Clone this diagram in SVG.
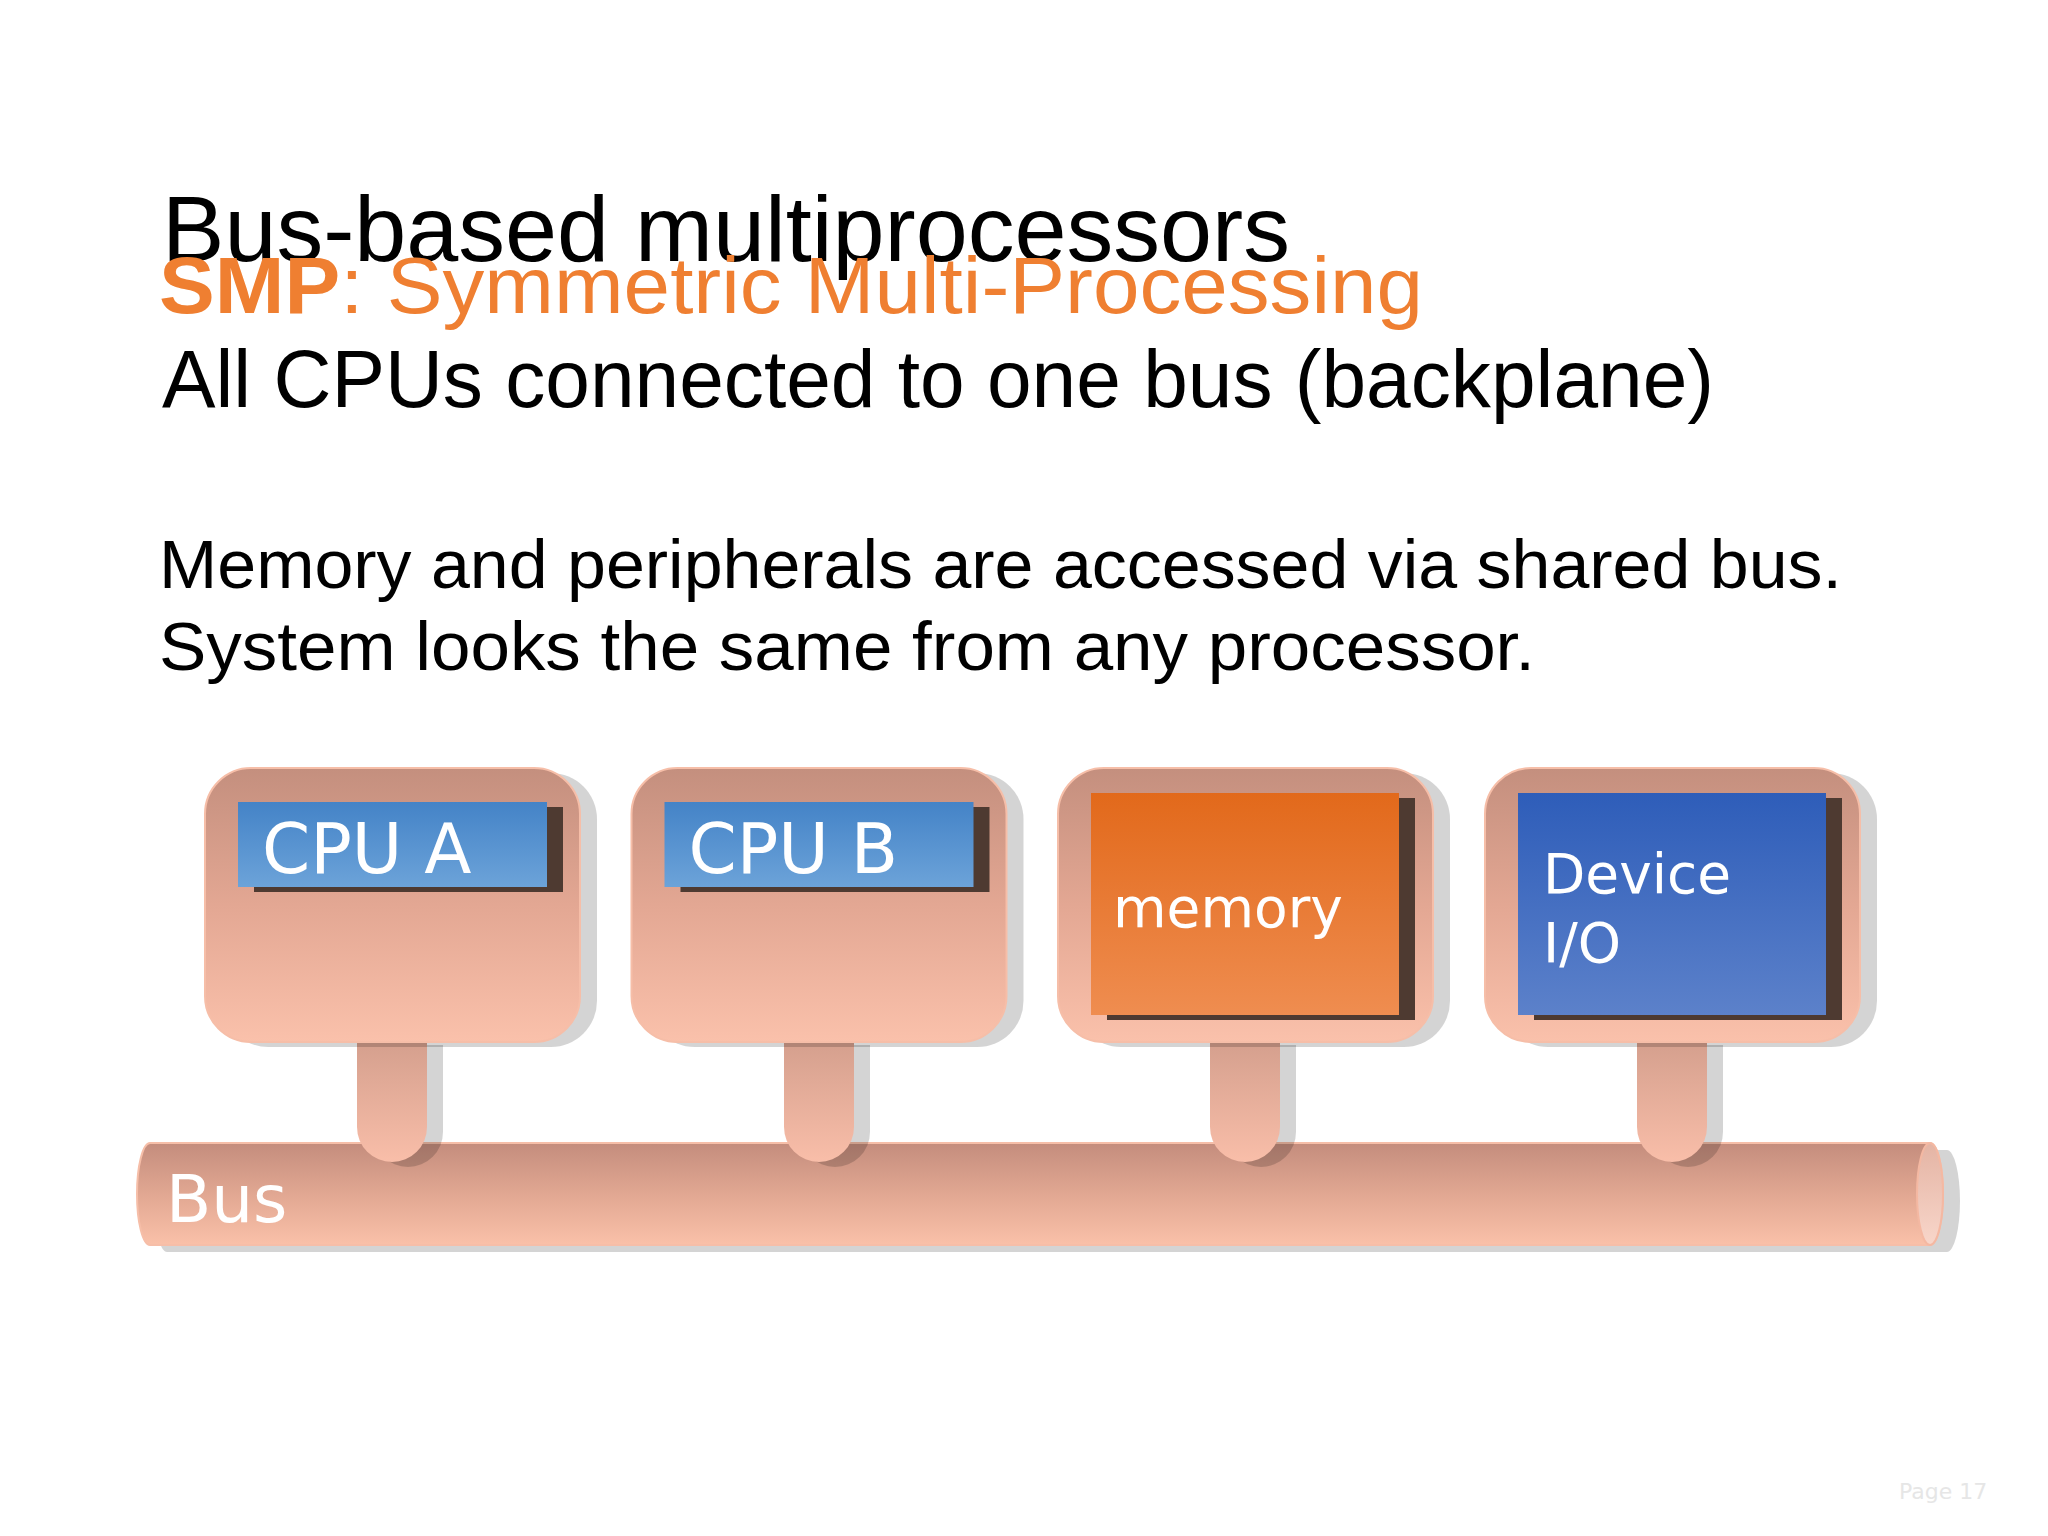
<svg xmlns="http://www.w3.org/2000/svg" width="2048" height="1536" viewBox="0 0 2048 1536">
  <defs>
    <linearGradient id="gBox" x1="0" y1="0" x2="0" y2="1">
      <stop offset="0" stop-color="#C48F7E"/>
      <stop offset="0.5" stop-color="#E3A793"/>
      <stop offset="1" stop-color="#FAC1AB"/>
    </linearGradient>
    <linearGradient id="gStem" x1="0" y1="0" x2="0" y2="1">
      <stop offset="0" stop-color="#D49F8D"/>
      <stop offset="1" stop-color="#F9BEA9"/>
    </linearGradient>
    <linearGradient id="gBus" x1="0" y1="0" x2="0" y2="1">
      <stop offset="0" stop-color="#C48D7D"/>
      <stop offset="0.5" stop-color="#E1A792"/>
      <stop offset="1" stop-color="#FAC1A9"/>
    </linearGradient>
    <linearGradient id="gCap" x1="0" y1="0" x2="0" y2="1">
      <stop offset="0" stop-color="#E4B4A4"/>
      <stop offset="1" stop-color="#F8D6CA"/>
    </linearGradient>
    <linearGradient id="gCpu" x1="0" y1="0" x2="0" y2="1">
      <stop offset="0" stop-color="#4483C7"/>
      <stop offset="1" stop-color="#6CA3D9"/>
    </linearGradient>
    <linearGradient id="gMem" x1="0" y1="0" x2="0" y2="1">
      <stop offset="0" stop-color="#E2691B"/>
      <stop offset="1" stop-color="#EF8D50"/>
    </linearGradient>
    <linearGradient id="gDev" x1="0" y1="0" x2="0" y2="1">
      <stop offset="0" stop-color="#2E5DB9"/>
      <stop offset="1" stop-color="#5C81CA"/>
    </linearGradient>
  </defs>
  <style>
    .shadow { fill: #000000; opacity: 0.17; }
    .box { fill: url(#gBox); stroke: #F6BEA8; stroke-width: 2; }
    .stem { fill: url(#gStem); }
    .inshadow { fill: #4E3A31; }
    .label { font-family: "DejaVu Sans", "Open Sans", sans-serif; fill: #FFFFFF; }
    .comic { font-family: "Liberation Sans", "DejaVu Sans", sans-serif; }
  </style>
  <rect x="0" y="0" width="2048" height="1536" fill="#FFFFFF"/>

  <g id="title">
    <text x="162" y="261" font-family="Liberation Sans, Arial, sans-serif" font-size="93" fill="#000000" textLength="1128" lengthAdjust="spacingAndGlyphs">Bus-based multiprocessors</text>
  </g>
  <g id="text-block">
    <text class="comic" x="159" y="313" font-size="80" fill="#EF7F31" textLength="1264" lengthAdjust="spacingAndGlyphs"><tspan font-weight="bold">SMP</tspan>:  Symmetric Multi-Processing</text>
    <text class="comic" x="162" y="407" font-size="82" fill="#000000" textLength="1552" lengthAdjust="spacingAndGlyphs">All CPUs connected to one bus (backplane)</text>
    <text class="comic" x="159" y="588" font-size="69" fill="#000000" textLength="1683" lengthAdjust="spacingAndGlyphs">Memory and peripherals are accessed via shared bus.</text>
    <text class="comic" x="159" y="670" font-size="69" fill="#000000" textLength="1376" lengthAdjust="spacingAndGlyphs">System looks the same from any processor.</text>
  </g>

  <g id="bus">
    <path class="shadow" d="M167 1150 H1947 A13 51 0 0 1 1947 1252 H167 A13 51 0 0 1 167 1150 Z"/>
    <path d="M150 1143 H1930 A13 51 0 0 1 1930 1245 H150 A13 51 0 0 1 150 1143 Z" fill="url(#gBus)" stroke="#F6BEA8" stroke-width="2"/>
    <ellipse cx="1930" cy="1194" rx="13" ry="51" fill="url(#gCap)" stroke="#F4B8A2" stroke-width="2"/>
    <text class="label" x="166" y="1222" font-size="66">Bus</text>
  </g>

  <g id="connectors">
    <path class="shadow" d="M373 1045 H443 V1132 A35 35 0 0 1 373 1132 Z"/>
    <path class="stem" d="M357 1040 H427 V1127 A35 35 0 0 1 357 1127 Z"/>
    <path class="shadow" d="M800 1045 H870 V1132 A35 35 0 0 1 800 1132 Z"/>
    <path class="stem" d="M784 1040 H854 V1127 A35 35 0 0 1 784 1127 Z"/>
    <path class="shadow" d="M1226 1045 H1296 V1132 A35 35 0 0 1 1226 1132 Z"/>
    <path class="stem" d="M1210 1040 H1280 V1127 A35 35 0 0 1 1210 1127 Z"/>
    <path class="shadow" d="M1653 1045 H1723 V1132 A35 35 0 0 1 1653 1132 Z"/>
    <path class="stem" d="M1637 1040 H1707 V1127 A35 35 0 0 1 1637 1127 Z"/>
  </g>

  <g id="cpu-a" transform="translate(205,768)">
    <rect class="shadow" x="17" y="5" width="375" height="274" rx="46" ry="46"/>
    <rect class="box" x="0" y="0" width="375" height="274" rx="46" ry="46"/>
    <rect class="inshadow" x="49" y="39" width="309" height="85"/>
    <rect x="33" y="34" width="309" height="85" fill="url(#gCpu)"/>
    <text class="label" x="57" y="105" font-size="69">CPU A</text>
  </g>

  <g id="cpu-b" transform="translate(631.5,768)">
    <rect class="shadow" x="17" y="5" width="375" height="274" rx="46" ry="46"/>
    <rect class="box" x="0" y="0" width="375" height="274" rx="46" ry="46"/>
    <rect class="inshadow" x="49" y="39" width="309" height="85"/>
    <rect x="33" y="34" width="309" height="85" fill="url(#gCpu)"/>
    <text class="label" x="57" y="105" font-size="69">CPU B</text>
  </g>

  <g id="memory" transform="translate(1058,768)">
    <rect class="shadow" x="17" y="5" width="375" height="274" rx="46" ry="46"/>
    <rect class="box" x="0" y="0" width="375" height="274" rx="46" ry="46"/>
    <rect class="inshadow" x="49" y="30" width="308" height="222"/>
    <rect x="33" y="25" width="308" height="222" fill="url(#gMem)"/>
    <text class="label" x="55" y="159" font-size="55">memory</text>
  </g>

  <g id="device-io" transform="translate(1485,768)">
    <rect class="shadow" x="17" y="5" width="375" height="274" rx="46" ry="46"/>
    <rect class="box" x="0" y="0" width="375" height="274" rx="46" ry="46"/>
    <rect class="inshadow" x="49" y="30" width="308" height="222"/>
    <rect x="33" y="25" width="308" height="222" fill="url(#gDev)"/>
    <text class="label" x="58" y="125" font-size="55">Device</text>
    <text class="label" x="58" y="194" font-size="55">I/O</text>
  </g>

  <g id="footer">
    <text x="1899" y="1499" font-family="DejaVu Sans, sans-serif" font-size="22" fill="#E6E6E6">Page 17</text>
  </g>
</svg>
